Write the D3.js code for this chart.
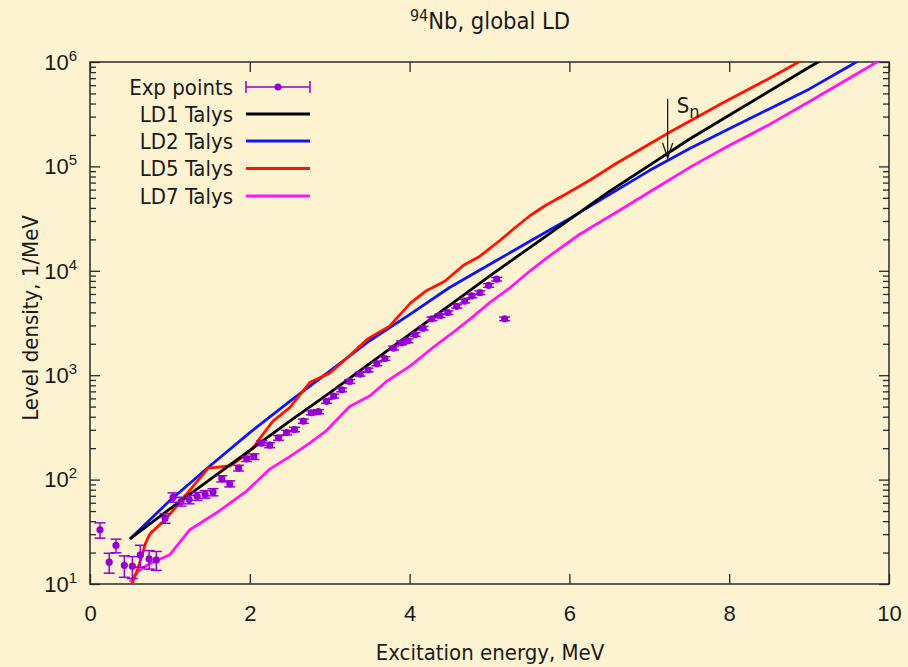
<!DOCTYPE html>
<html><head><meta charset="utf-8">
<script src="https://cdn.jsdelivr.net/npm/d3@7"></script>
<style>
body{margin:0;background:#fef3d1;}
svg{display:block;font-family:"DejaVu Sans Condensed","DejaVu Sans",Verdana,sans-serif;}
</style>
</head><body>
<svg id="c" width="908" height="667"></svg>
<script>
// ---- data ----
const ld1E   = [0.5, 1.0, 1.5, 2.0, 2.5, 3.0, 3.5, 4.0, 4.5, 5.0, 5.5, 6.0, 6.5, 7.0, 7.5, 8.0, 8.5, 9.0, 9.5];
const ld1Rho = [27, 52.5, 100, 191, 363, 676, 1288, 2455, 4677, 8913, 16600, 30900, 57540, 102300, 182000, 309000, 524800, 891300, 1479000];

const ld2E   = [0.5, 1.0, 1.5, 2.0, 2.5, 3.0, 3.5, 4.0, 4.5, 5.0, 5.5, 6.0, 6.5, 7.0, 7.5, 8.0, 8.5, 9.0, 9.5, 10.0];
const ld2Rho = [27, 63.1, 135, 282, 562, 1096, 2138, 3802, 6918, 11480, 19050, 31620, 53700, 91200, 147900, 229100, 354800, 549500, 912000, 1514000];

const ld5E   = [0.5, 0.6, 0.7, 0.75, 0.92, 1.08, 1.25, 1.48, 1.75, 1.88, 2.04, 2.13, 2.29, 2.5, 2.75, 3.0, 3.21, 3.48, 3.75, 4.01, 4.21, 4.44, 4.67, 4.88, 5.13, 5.3, 5.51, 5.71, 5.97, 6.26, 6.59, 7.26, 7.9, 8.47, 8.87, 9.2];
const ld5Rho = [8.9, 14.1, 25.1, 30.2, 39.8, 55, 79.4, 129, 135, 158, 200, 251, 363, 490, 851, 1047, 1445, 2239, 2951, 4898, 6457, 7943, 11220, 13800, 19500, 25120, 33880, 42660, 54950, 74130, 107200, 213800, 398100, 676100, 1000000, 1380000];

const ld7E   = [0.5, 0.6, 0.71, 0.85, 1.0, 1.25, 1.6, 1.96, 2.25, 2.5, 2.75, 2.96, 3.25, 3.5, 3.71, 4.01, 4.3, 4.51, 4.76, 5.01, 5.26, 5.51, 5.71, 6.13, 6.63, 7.1, 7.55, 8.0, 8.5, 9.0, 9.47, 9.85, 10.0];
const ld7Rho = [10.5, 13.2, 15.1, 17.0, 19.1, 33.1, 49, 77.6, 126, 166, 224, 295, 501, 631, 871, 1230, 1862, 2455, 3467, 5012, 6918, 10000, 13180, 22390, 38020, 63100, 102300, 158500, 251200, 416900, 676100, 1000000, 1120000];

const expE   = [0.125, 0.24, 0.325, 0.43, 0.53, 0.63, 0.74, 0.83, 0.94, 1.04, 1.14, 1.24, 1.34, 1.44, 1.54, 1.65, 1.75, 1.86, 1.96, 2.05, 2.15, 2.25, 2.36, 2.46, 2.56, 2.67, 2.77, 2.86, 2.96, 3.05, 3.15, 3.25, 3.38, 3.48, 3.59, 3.69, 3.8, 3.9, 3.98, 4.07, 4.17, 4.28, 4.38, 4.48, 4.59, 4.69, 4.78, 4.88, 4.99, 5.09, 5.19];
const expRho = [33, 16.2, 23.4, 15.1, 14.8, 19, 17.4, 17, 42.7, 67.6, 61.7, 64.6, 69.2, 72.4, 75.9, 102, 91.2, 129, 158, 166, 224, 214, 251, 282, 302, 363, 437, 447, 562, 631, 724, 871, 1023, 1122, 1288, 1445, 1820, 2042, 2138, 2455, 2818, 3467, 3715, 3981, 4571, 5129, 5754, 6166, 7244, 8318, 3467];
const expErr = [5.5, 3.5, 3.5, 3.5, 3.5, 4.5, 3.5, 3.5, 4.5, 7, 6, 6, 6, 6, 6, 7, 6, 8, 9, 10, 12, 12, 13, 14, 15, 17, 20, 20, 24, 27, 31, 37, 43, 47, 54, 60, 75, 84, 88, 100, 115, 140, 150, 160, 185, 205, 230, 245, 290, 330, 140];

const xTicks = [0, 2, 4, 6, 8, 10];
const yTicks = [1e1, 1e2, 1e3, 1e4, 1e5, 1e6];
const yExp   = ["1", "2", "3", "4", "5", "6"];
const legendLabels = ["Exp points", "LD1 Talys", "LD2 Talys", "LD5 Talys", "LD7 Talys"];
const Sn = 7.23;

// ---- drawing ----
const svg = d3.select("#c");
const L = 90, R = 889, T = 62, B = 584;
const FS = 22;
const x = d3.scaleLinear().domain([0, 10]).range([L, R]);
const y = d3.scaleLog().domain([1e1, 1e6]).range([B, T]);

const colors = {exp: "#9400d3", ld1: "#000000", ld2: "#0a14ff", ld5: "#ff1400", ld7: "#ff14ff"};

svg.append("defs").append("clipPath").attr("id", "clip")
  .append("rect").attr("x", L).attr("y", T).attr("width", R - L).attr("height", B - T);

// minor ticks for log axis
const minors = [];
for (let k = 1; k < 6; k++) for (let m = 2; m <= 9; m++) minors.push(m * Math.pow(10, k));

const axStroke = "#2a2a2a";
function styleAxis(g) {
  g.select(".domain").remove();
  g.selectAll(".tick line").attr("stroke", axStroke).attr("stroke-width", 1.3);
  g.selectAll("text").attr("font-size", FS).attr("fill", "#1a1a1a").attr("font-family", null);
}

// X bottom
svg.append("g").attr("transform", `translate(0,${B})`)
  .call(d3.axisBottom(x).tickValues(xTicks).tickSize(-10).tickPadding(21).tickFormat(d3.format("d")))
  .call(styleAxis);
// X top (mirror)
svg.append("g").attr("transform", `translate(0,${T})`)
  .call(d3.axisTop(x).tickValues(xTicks).tickSize(-10).tickFormat(""))
  .call(styleAxis);
// Y left major
const yl = svg.append("g").attr("transform", `translate(${L},0)`)
  .call(d3.axisLeft(y).tickValues(yTicks).tickSize(-10).tickPadding(13).tickFormat(""))
  .call(styleAxis);
yl.selectAll(".tick text").each(function(d, i) {
  const t = d3.select(this);
  t.text(null).attr("dy", "0.33em");
  t.append("tspan").text("10");
  t.append("tspan").attr("dy", -9).attr("font-size", 15).text(yExp[i]);
});
svg.append("g").attr("transform", `translate(${L},0)`)
  .call(d3.axisLeft(y).tickValues(minors).tickSize(-6).tickFormat(""))
  .call(styleAxis);
// Y right (mirror)
svg.append("g").attr("transform", `translate(${R},0)`)
  .call(d3.axisRight(y).tickValues(yTicks).tickSize(-10).tickFormat(""))
  .call(styleAxis);
svg.append("g").attr("transform", `translate(${R},0)`)
  .call(d3.axisRight(y).tickValues(minors).tickSize(-6).tickFormat(""))
  .call(styleAxis);

// frame
svg.append("rect").attr("x", L).attr("y", T).attr("width", R - L).attr("height", B - T)
  .attr("fill", "none").attr("stroke", axStroke).attr("stroke-width", 1.5);

// curves
const line = d3.line().x(d => x(d[0])).y(d => y(d[1]));
const plot = svg.append("g").attr("clip-path", "url(#clip)");
const series = [
  [ld7E, ld7Rho, colors.ld7],
  [ld2E, ld2Rho, colors.ld2],
  [ld5E, ld5Rho, colors.ld5],
  [ld1E, ld1Rho, colors.ld1]
];
series.forEach(([es, rs, c]) => {
  plot.append("path").datum(es.map((e, i) => [e, rs[i]]))
    .attr("d", line).attr("fill", "none").attr("stroke", c)
    .attr("stroke-width", 2.8).attr("stroke-linejoin", "round");
});

// experimental points
const exp = expE.map((e, i) => ({e, r: expRho[i], s: expErr[i]}));
const eg = plot.append("g").attr("stroke", colors.exp).attr("stroke-width", 1.5).attr("fill", colors.exp);
const cap = 5.5;
exp.forEach(p => {
  const cx = x(p.e), y1 = y(p.r - p.s), y2 = y(p.r + p.s);
  eg.append("line").attr("x1", cx).attr("x2", cx).attr("y1", y1).attr("y2", y2);
  eg.append("line").attr("x1", cx - cap).attr("x2", cx + cap).attr("y1", y1).attr("y2", y1);
  eg.append("line").attr("x1", cx - cap).attr("x2", cx + cap).attr("y1", y2).attr("y2", y2);
  eg.append("circle").attr("cx", cx).attr("cy", y(p.r)).attr("r", 3.6).attr("stroke", "none");
});

// Sn arrow
const sx = x(Sn);
const ag = svg.append("g").attr("stroke", "#111").attr("stroke-width", 1.2).attr("fill", "none");
ag.append("line").attr("x1", sx).attr("x2", sx).attr("y1", 99).attr("y2", 158);
ag.append("polyline").attr("points", `${sx - 5},${143} ${sx},${158} ${sx + 5},${143}`);
const st = svg.append("text").attr("x", sx + 9).attr("y", 113).attr("font-size", FS).attr("fill", "#1a1a1a");
st.append("tspan").text("S");
st.append("tspan").attr("dy", 5).attr("font-size", 18).text("n");

// legend
const lgX0 = 246, lgX1 = 310, lgText = 233;
const lgY = [87, 114, 141, 168.5, 196];
const lgCol = [colors.exp, colors.ld1, colors.ld2, colors.ld5, colors.ld7];
legendLabels.forEach((lab, i) => {
  svg.append("text").attr("x", lgText).attr("y", lgY[i]).attr("dy", "0.35em")
    .attr("text-anchor", "end").attr("font-size", FS).attr("fill", "#1a1a1a").text(lab);
  if (i === 0) {
    const g = svg.append("g").attr("stroke", lgCol[0]).attr("stroke-width", 1.5);
    g.append("line").attr("x1", lgX0).attr("x2", lgX1).attr("y1", lgY[0]).attr("y2", lgY[0]);
    g.append("line").attr("x1", lgX0).attr("x2", lgX0).attr("y1", lgY[0] - 6).attr("y2", lgY[0] + 6);
    g.append("line").attr("x1", lgX1).attr("x2", lgX1).attr("y1", lgY[0] - 6).attr("y2", lgY[0] + 6);
    svg.append("circle").attr("cx", (lgX0 + lgX1) / 2).attr("cy", lgY[0]).attr("r", 3.6).attr("fill", lgCol[0]);
  } else {
    svg.append("line").attr("x1", lgX0).attr("x2", lgX1).attr("y1", lgY[i]).attr("y2", lgY[i])
      .attr("stroke", lgCol[i]).attr("stroke-width", 2.8);
  }
});

// title
const tt = svg.append("text").attr("x", 490).attr("y", 29).attr("text-anchor", "middle")
  .attr("font-size", 23.5).attr("fill", "#1a1a1a");
tt.append("tspan").attr("font-size", 16).attr("dy", -8).text("94");
tt.append("tspan").attr("dy", 8).text("Nb, global LD");

// axis titles
svg.append("text").attr("x", 490).attr("y", 660).attr("text-anchor", "middle")
  .attr("font-size", FS).attr("fill", "#1a1a1a").text("Excitation energy, MeV");
svg.append("text").attr("transform", "translate(38,318) rotate(-90)").attr("text-anchor", "middle")
  .attr("font-size", FS).attr("fill", "#1a1a1a").text("Level density, 1/MeV");
</script>
</body></html>
